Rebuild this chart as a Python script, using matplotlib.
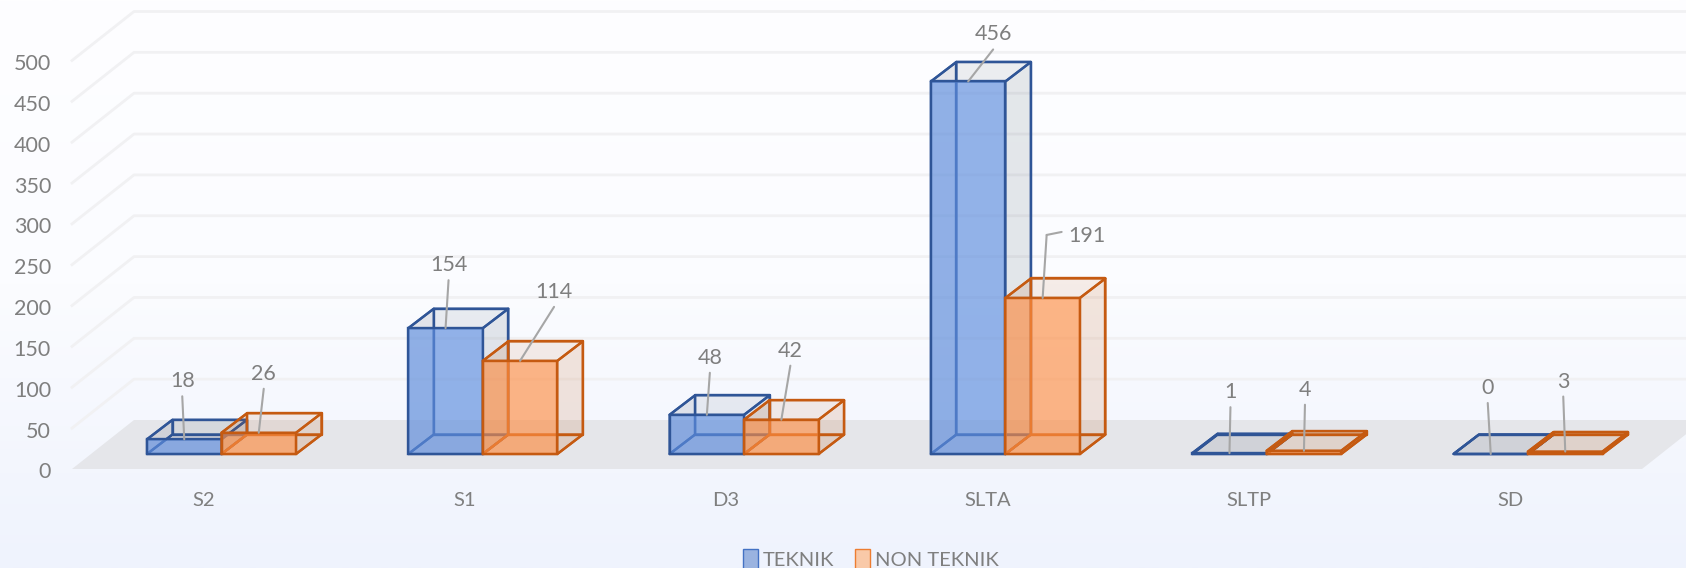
import numpy as np
import matplotlib
matplotlib.use("Agg")
import matplotlib.pyplot as plt
from matplotlib.colors import LinearSegmentedColormap
from matplotlib.patches import Polygon, Patch

categories = ["S2", "S1", "D3", "SLTA", "SLTP", "SD"]
teknik = [18, 154, 48, 456, 1, 0]
non_teknik = [26, 114, 42, 191, 4, 3]
y_ticks = [0, 50, 100, 150, 200, 250, 300, 350, 400, 450, 500]

# layout, in pixels of the 1686x568 picture
W, H = 1686, 568
PITCH = 261.3       # px between categories
X0 = 221.5          # px of the first category centre
BASE = 454.0        # px of value 0 at the front of the bars
PER_UNIT = 0.817    # px per value unit
BAR_W = 74.5
DEPTH_X, DEPTH_Y = 25.5, 19.5
FLOOR_FRONT = 15.0  # floor front edge below the bars
FLOOR_LEFT = 72.0
FLOOR_RIGHT = 1642.0
SLANT_X, SLANT_Y = 62.0, 49.0

plt.rcParams["font.family"] = ["Lato", "DejaVu Sans"]

# px offsets of leader lines, from the middle of the bar top
lead_blue = [(-2, 43), (3, 48), (3, 42), (25, 32), (1, 46), (-3, 51)]
lead_orange = [(5, 44), (34, 54), (9, 54), (4, 63), (1, 46), (-2, 55)]

fig = plt.figure(figsize=(W / 100, H / 100), dpi=100)

bg = fig.add_axes([0, 0, 1, 1], zorder=0)
bg.axis("off")
grad = LinearSegmentedColormap.from_list("bg", ["#FEFEFF", "#FBFCFF", "#EFF3FD"])
bg.imshow(np.linspace(0, 1, 256).reshape(-1, 1), aspect="auto", cmap=grad)

ax = fig.add_axes([0, 0, 1, 1], zorder=1)
ax.patch.set_alpha(0)
ax.axis("off")
ax.set_xlim(-X0 / PITCH, (W - X0) / PITCH)
ax.set_ylim((BASE - H) / PER_UNIT, BASE / PER_UNIT)

# px to data helpers
dx = lambda px: px / PITCH
dy = lambda px: px / PER_UNIT
left_x = -X0 / PITCH + dx(FLOOR_LEFT)
right_x = -X0 / PITCH + dx(FLOOR_RIGHT)
front_y = -dy(FLOOR_FRONT)
sx, sy = dx(SLANT_X), dy(SLANT_Y)
far_right = ax.get_xlim()[1]

# floor
ax.add_patch(Polygon([(left_x, front_y), (right_x, front_y),
                      (right_x + sx, front_y + sy), (left_x + sx, front_y + sy)],
                     fc="#E5E6EA", ec="none", zorder=1))

# side wall and back wall gridlines
for v in y_ticks:
    if v > 0:
        ax.plot([left_x, left_x + sx, far_right],
                [front_y + v, front_y + v + sy, front_y + v + sy],
                color="#F1F1F3", lw=2, zorder=1, solid_joinstyle="round")
    ax.text(-X0 / PITCH + dx(51), front_y + v - dy(3.5), str(v), ha="right", va="center",
            fontsize=15.5, color="#7F7F7F")


def draw_bar(x, value, edge, front, side, back):
    w = dx(BAR_W)
    ox, oy = dx(DEPTH_X), dy(DEPTH_Y)
    x1, x2 = x, x + w
    lw = 1.7
    ekw = dict(ec=edge, lw=lw, joinstyle="round", zorder=3)
    # back, left and bottom faces
    ax.add_patch(Polygon([(x1 + ox, oy), (x2 + ox, oy), (x2 + ox, value + oy), (x1 + ox, value + oy)],
                         fc=back, **ekw))
    ax.add_patch(Polygon([(x1, 0), (x1 + ox, oy), (x1 + ox, value + oy), (x1, value)],
                         fc=side, **ekw))
    ax.add_patch(Polygon([(x1, 0), (x2, 0), (x2 + ox, oy), (x1 + ox, oy)],
                         fc=side, **ekw))
    # right and top faces
    ax.add_patch(Polygon([(x2, 0), (x2 + ox, oy), (x2 + ox, value + oy), (x2, value)],
                         fc=side, **ekw))
    ax.add_patch(Polygon([(x1, value), (x2, value), (x2 + ox, value + oy), (x1 + ox, value + oy)],
                         fc=back, **ekw))
    # front face
    ax.bar(x1, value, width=w, align="edge", color=front, edgecolor=edge, linewidth=lw, zorder=3)


def draw_label(x, value, lead, elbow=False):
    px, py = lead
    line = dict(arrowstyle="-", color="#A6A6A6", lw=1.5, shrinkA=0, shrinkB=0)
    ax.annotate("", xy=(x, value), xytext=(px, py), textcoords="offset pixels",
                arrowprops=line, zorder=6)
    if elbow:
        # second piece of the leader, going right to the label
        ax.annotate("", xy=(x + dx(px), value + dy(py)), xycoords="data",
                    xytext=(x + dx(px + 15), value + dy(py + 3)), textcoords="data",
                    arrowprops=line, zorder=6)
        ax.annotate(str(value), xy=(x, value), xytext=(px + 22, py - 1), textcoords="offset pixels",
                    ha="left", va="center", fontsize=15.5, color="#7F7F7F", zorder=6)
    else:
        ax.annotate(str(value), xy=(x, value), xytext=(px, py + 15), textcoords="offset pixels",
                    ha="center", va="center", fontsize=15.5, color="#7F7F7F", zorder=6)


w = dx(BAR_W)
for i, cat in enumerate(categories):
    draw_bar(i - w, teknik[i], "#2F5597", "#5F8FE0A6", "#44546A16", "#44546A0C")
    draw_bar(i, non_teknik[i], "#C55A11", "#FF8F45A0", "#C55A1118", "#C55A110C")
    draw_label(i - w / 2, teknik[i], lead_blue[i])
    draw_label(i + w / 2, non_teknik[i], lead_orange[i], elbow=cat == "SLTA")
    ax.text(i - dx(18), front_y - dy(32), cat, ha="center", va="center",
            fontsize=14.5, color="#7F7F7F")

handles = [Patch(fc="#8FAADCE0", ec="#4472C4", lw=1, label="TEKNIK"),
           Patch(fc="#FBC49CE0", ec="#ED7D31", lw=1, label="NON TEKNIK")]
ax.legend(handles=handles, loc="lower center", bbox_to_anchor=(0.5165, -0.019), ncol=2, frameon=False,
          fontsize=14.5, labelcolor="#7F7F7F", handlelength=0.75, handleheight=1.1,
          handletextpad=0.25, columnspacing=1.05, borderpad=0)

fig.savefig("out.png", dpi=100)
